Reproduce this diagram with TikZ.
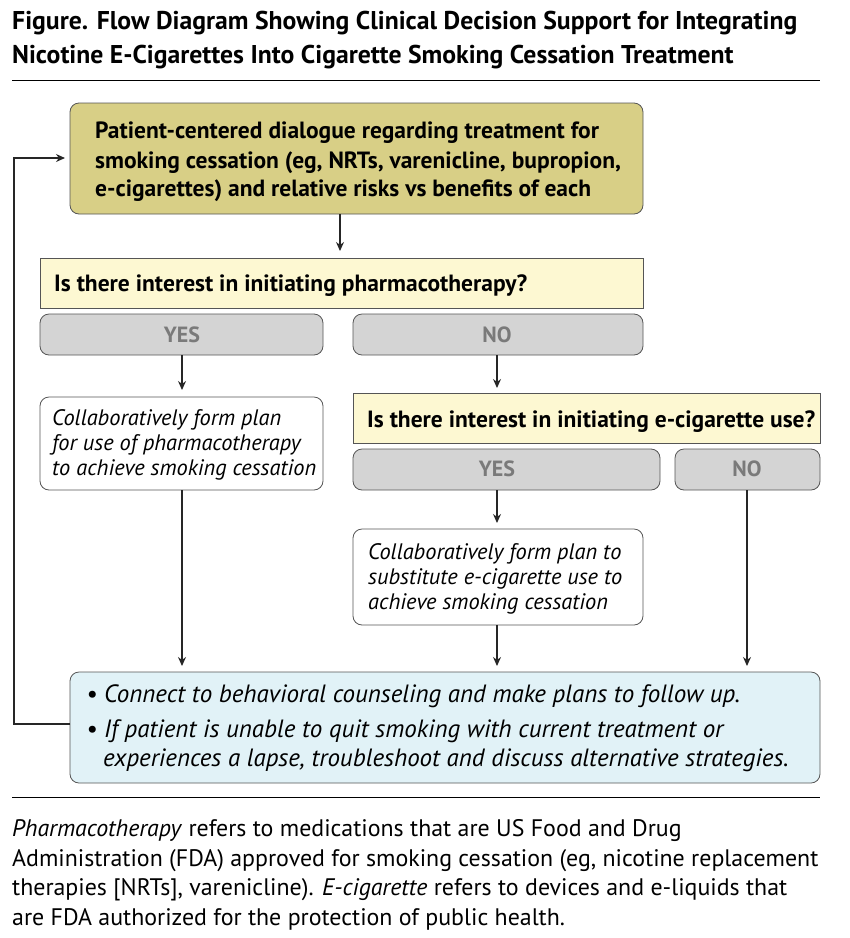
\documentclass[tikz,border=0pt]{standalone}
\usepackage{fontspec}
\setmainfont{PT Sans}
\usetikzlibrary{arrows.meta}
\definecolor{olive}{HTML}{D8CF86}
\definecolor{qyel}{HTML}{FDF8D2}
\definecolor{gbox}{HTML}{D4D4D4}
\definecolor{gtxt}{HTML}{7A7A7A}
\definecolor{lblue}{HTML}{E1F2F7}
\definecolor{edge}{HTML}{555555}
\begin{document}
\begin{tikzpicture}[x=1pt,y=-1pt,
  box/.style={draw=edge,line width=0.8pt,rounded corners=9pt},
  qbox/.style={draw=edge,line width=0.6pt,fill=qyel},
  gb/.style={box,fill=gbox},
  lbl/.style={inner sep=0pt,anchor=base west},
  tt/.style={lbl,font=\fontsize{25.7}{25}\selectfont\bfseries},
  bt/.style={lbl,font=\fontsize{23.5}{25}\selectfont\bfseries},
  it/.style={lbl,font=\fontsize{22.4}{25}\selectfont\itshape},
  ct/.style={lbl,font=\fontsize{25}{25}\selectfont\itshape},
  ft/.style={lbl,font=\fontsize{23.9}{25}\selectfont},
  ans/.style={inner sep=0pt,font=\fontsize{22}{22}\selectfont\bfseries,text=gtxt},
  arr/.style={-{Stealth[length=9pt,width=8pt]},line width=1.3pt,draw=black!85}]
\useasboundingbox (0,0) rectangle (850,938);
% title
\node[tt] (ti1) at (12,29) {Figure. Flow Diagram Showing Clinical Decision Support for Integrating};
\node[tt] (ti2) at (12,63) {Nicotine E-Cigarettes Into Cigarette Smoking Cessation Treatment};
\draw[line width=1pt] (12,80) -- (820,80);
\draw[line width=1pt] (12,797) -- (820,797);
% boxes
\draw[box,fill=olive] (70,103) rectangle (643,214);
\node[bt] (t1) at (95,138) {Patient-centered dialogue regarding treatment for};
\node[bt] (t2) at (95,168) {smoking cessation (eg, NRTs, varenicline, bupropion,};
\node[bt] (t3) at (95,196) {e-cigarettes) and relative risks vs benefits of each};
\draw[qbox] (40,258) rectangle (643,308);
\node[bt] (q1) at (54,291) {Is there interest in initiating pharmacotherapy?};
\draw[gb] (40,314) rectangle (323,355);
\node[ans] (yes1) at (182,335) {YES};
\draw[gb] (353,314) rectangle (643,355);
\node[ans] (no1) at (497,335) {NO};
\draw[box,fill=white] (40,397) rectangle (323,490);
\node[it] (p11) at (52,425) {Collaboratively form plan};
\node[it] (p12) at (52,450) {for use of pharmacotherapy};
\node[it] (p13) at (52,475) {to achieve smoking cessation};
\draw[qbox] (353,393) rectangle (820,443);
\node[bt] (q2) at (367,427) {Is there interest in initiating e-cigarette use?};
\draw[gb] (353,449) rectangle (660,490);
\node[ans] (yes2) at (497,469) {YES};
\draw[gb] (675,449) rectangle (820,490);
\node[ans] (no2) at (747,469) {NO};
\draw[box,fill=white] (353,529) rectangle (643,625);
\node[it] (p21) at (368,559) {Collaboratively form plan to};
\node[it] (p22) at (368,584) {substitute e-cigarette use to};
\node[it] (p23) at (368,609) {achieve smoking cessation};
\draw[box,fill=lblue] (70,672) rectangle (820,783);
\node[ct] (c1) at (86,702) {• Connect to behavioral counseling and make plans to follow up.};
\node[ct] (c2) at (86,737) {• If patient is unable to quit smoking with current treatment or};
\node[ct] (c3) at (103,766) {experiences a lapse, troubleshoot and discuss alternative strategies.};
% connectors
\coordinate (a1s) at (340,214); \coordinate (a1e) at (340,251);
\draw[arr] (a1s) -- (a1e);
\coordinate (a2s) at (182,355); \coordinate (a2e) at (182,390);
\draw[arr] (a2s) -- (a2e);
\coordinate (a3s) at (497,355); \coordinate (a3e) at (497,388);
\draw[arr] (a3s) -- (a3e);
\coordinate (a4s) at (182,490); \coordinate (a4e) at (182,666);
\draw[arr] (a4s) -- (a4e);
\coordinate (a5s) at (497,490); \coordinate (a5e) at (497,523);
\draw[arr] (a5s) -- (a5e);
\coordinate (a6s) at (497,625); \coordinate (a6e) at (497,666);
\draw[arr] (a6s) -- (a6e);
\coordinate (a7s) at (747,490); \coordinate (a7e) at (747,666);
\draw[arr] (a7s) -- (a7e);
\coordinate (fbs) at (70,724); \coordinate (fbe) at (65,158);
\draw[arr] (fbs) -- (14,724) -- (14,158) -- (fbe);
% footnote
\node[ft] (f1) at (12,836) {\textit{Pharmacotherapy} refers to medications that are US Food and Drug};
\node[ft] (f2) at (12,866) {Administration (FDA) approved for smoking cessation (eg, nicotine replacement};
\node[ft] (f3) at (12,895) {therapies [NRTs], varenicline). \textit{E-cigarette} refers to devices and e-liquids that};
\node[ft] (f4) at (12,925) {are FDA authorized for the protection of public health.};
\end{tikzpicture}
\end{document}
